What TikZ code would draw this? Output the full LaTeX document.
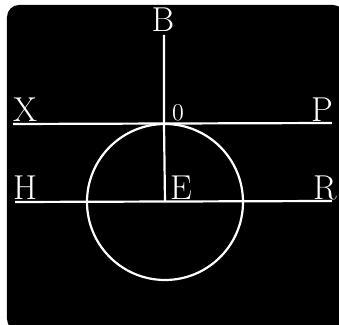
\documentclass[tikz,border=0pt]{standalone}
\usepackage{tikz}
\usetikzlibrary{positioning}
\tikzset{
  wline/.style={draw=white, line width=1.1pt},
  lbl/.style={text=white, font=\LARGE, inner sep=1pt}
}

\begin{document}
\begin{tikzpicture}[x=0.5pt,y=-0.5pt]
\useasboundingbox (0,0) rectangle (339,325);
\fill[black, rounded corners=6pt] (7,5) rectangle (345,331);
% points of the figure
\coordinate (x0) at (13,124);
\coordinate (p0) at (332,123);
\coordinate (h0) at (15,202);
\coordinate (r0) at (332,201);
\coordinate (o0) at (164,124);
\coordinate (e0) at (165,202);
\coordinate (b0) at (164,35);
\draw[wline] (x0) -- (p0);
\draw[wline] (h0) -- (r0);
\draw[wline] (b0) -- (o0) -- (e0);
\draw[wline] (e0) circle[radius=78];
% letters
\node[lbl] (B) at (163,20) {B};
\node[lbl] (X) at (25,110) {X};
\node[lbl, font=\large] (O) at (178,113) {0};
\node[lbl] (P) at (322,110) {P};
\node[lbl] (H) at (25,188) {H};
\node[lbl] (E) at (181,188) {E};
\node[lbl] (R) at (325,188) {R};
\end{tikzpicture}
\end{document}
